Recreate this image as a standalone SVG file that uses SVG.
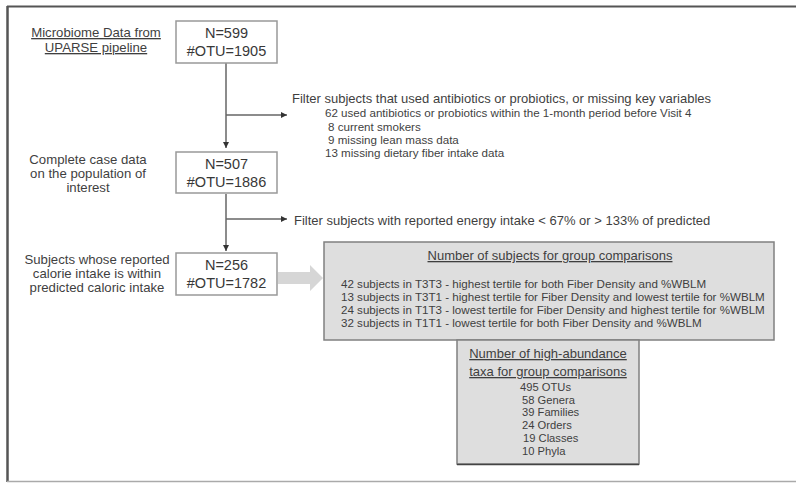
<svg xmlns="http://www.w3.org/2000/svg" width="796" height="483" viewBox="0 0 796 483">
<style>
text{font-family:"Liberation Sans",Arial,sans-serif;fill:#3f3f3f}
.lbl{font-size:13.2px;text-anchor:middle}
.num{font-size:14.5px;text-anchor:middle;fill:#383838}
.box{fill:#fff;stroke:#999;stroke-width:1.5}
.gbox{fill:#dedede;stroke:#808080;stroke-width:1.5}
.ln{stroke:#666;stroke-width:1.5;fill:none}
.f1{font-size:13px}
.f2{font-size:11.6px}
.g{font-size:11.6px}
.t{font-size:11.2px}
.u{text-decoration:underline}
</style>
<defs>
<marker id="ah" markerWidth="8" markerHeight="8" refX="6" refY="3" orient="auto" markerUnits="userSpaceOnUse">
<path d="M0,0 L6,3 L0,6 z" fill="#333"/>
</marker>
</defs>
<rect x="0" y="0" width="796" height="483" fill="#fff"/>
<g id="frame">
<line x1="7" y1="6.5" x2="796" y2="6.5" stroke="#555" stroke-width="2"/>
<line x1="7.5" y1="6" x2="7.5" y2="482" stroke="#555" stroke-width="2.5"/>
<line x1="7" y1="481.5" x2="796" y2="481.5" stroke="#aaa" stroke-width="1.5"/>
</g>
<g id="labels">
<text class="lbl u" x="96" y="37">Microbiome Data from</text>
<text class="lbl u" x="96" y="52">UPARSE pipeline</text>
<text class="lbl" x="88" y="164">Complete case data</text>
<text class="lbl" x="88" y="178">on the population of</text>
<text class="lbl" x="88" y="192">interest</text>
<text class="lbl" x="97" y="264">Subjects whose reported</text>
<text class="lbl" x="97" y="278">calorie intake is within</text>
<text class="lbl" x="97" y="292">predicted caloric intake</text>
</g>
<g id="connectors">
<line class="ln" x1="226" y1="63" x2="226" y2="148" marker-end="url(#ah)"/>
<line class="ln" x1="226" y1="115" x2="287" y2="115" marker-end="url(#ah)"/>
<line class="ln" x1="226" y1="194" x2="226" y2="251" marker-end="url(#ah)"/>
<line class="ln" x1="226" y1="219" x2="287" y2="219" marker-end="url(#ah)"/>
<path d="M278,272 L310,272 L310,265 L323,278 L310,291 L310,284 L278,284 z" fill="#d6d6d6"/>
</g>
<g id="n599">
<rect class="box" x="176" y="21" width="101" height="42"/>
<text class="num" x="226.5" y="38">N=599</text>
<text class="num" x="226.5" y="56">#OTU=1905</text>
</g>
<g id="filter1">
<text class="f1" x="292" y="103">Filter subjects that used antibiotics or probiotics, or missing key variables</text>
<text class="f2" x="325" y="117">62 used antibiotics or probiotics within the 1-month period before Visit 4</text>
<text class="f2" x="328" y="131">8 current smokers</text>
<text class="f2" x="328" y="144">9 missing lean mass data</text>
<text class="f2" x="325" y="157">13 missing dietary fiber intake data</text>
</g>
<g id="n507">
<rect class="box" x="176" y="152" width="101" height="41"/>
<text class="num" x="226.5" y="169">N=507</text>
<text class="num" x="226.5" y="187">#OTU=1886</text>
</g>
<g id="filter2">
<text class="f1" x="294" y="225">Filter subjects with reported energy intake &lt; 67% or &gt; 133% of predicted</text>
</g>
<g id="n256">
<rect class="box" x="176" y="253" width="101" height="42"/>
<text class="num" x="226.5" y="270">N=256</text>
<text class="num" x="226.5" y="288">#OTU=1782</text>
</g>
<g id="groups">
<rect class="gbox" x="324" y="242" width="450" height="98"/>
<text class="f1 u" x="550" y="260" text-anchor="middle">Number of subjects for group comparisons</text>
<text class="g" x="341" y="288">42 subjects in T3T3 - highest tertile for both Fiber Density and %WBLM</text>
<text class="g" x="341" y="301">13 subjects in T3T1 - highest tertile for Fiber Density and lowest tertile for %WBLM</text>
<text class="g" x="341" y="314">24 subjects in T1T3 - lowest tertile for Fiber Density and highest tertile for %WBLM</text>
<text class="g" x="341" y="327">32 subjects in T1T1 - lowest tertile for both Fiber Density and %WBLM</text>
</g>
<g id="taxa">
<rect class="gbox" x="457" y="340" width="182" height="124"/>
<line x1="457" y1="464.5" x2="639" y2="464.5" stroke="#444" stroke-width="1.5"/>
<text class="f1 u" x="548" y="358" text-anchor="middle">Number of high-abundance</text>
<text class="f1 u" x="548" y="376" text-anchor="middle">taxa for group comparisons</text>
<text class="t" x="520" y="391">495 OTUs</text>
<text class="t" x="522" y="404">58 Genera</text>
<text class="t" x="522" y="416">39 Families</text>
<text class="t" x="522" y="429">24 Orders</text>
<text class="t" x="523" y="442">19 Classes</text>
<text class="t" x="522" y="455">10 Phyla</text>
</g>
</svg>
